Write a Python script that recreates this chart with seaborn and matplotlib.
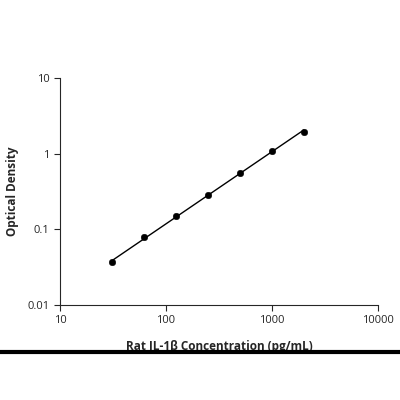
import numpy as np
import matplotlib
matplotlib.use("Agg")
import matplotlib.pyplot as plt
import seaborn as sns
from matplotlib.lines import Line2D

sns.set_style("ticks")
plt.rcParams["font.family"] = ["Open Sans", "DejaVu Sans"]

concentration = [31.25, 62.5, 125, 250, 500, 1000, 2000]
optical_density = [0.037, 0.078, 0.148, 0.285, 0.56, 1.1, 1.95]

fig = plt.figure(figsize=(4, 4), dpi=100)
ax = fig.add_axes([0.15, 0.2375, 0.795, 0.5675])

# straight fit line in log-log space
slope, intercept = np.polyfit(np.log10(concentration), np.log10(optical_density), 1)
fit_x = np.array([concentration[0], concentration[-1]])
fit_y = 10 ** (intercept + slope * np.log10(fit_x))
ax.plot(fit_x, fit_y, color="black", lw=1)

sns.scatterplot(x=concentration, y=optical_density, ax=ax, color="black", s=22, edgecolor="black", zorder=3)

ax.set_xscale("log")
ax.set_yscale("log")
ax.set_xlim(10, 10000)
ax.set_ylim(0.01, 10)
ax.set_xticks([10, 100, 1000, 10000])
ax.set_xticklabels(["10", "100", "1000", "10000"])
ax.set_yticks([0.01, 0.1, 1, 10])
ax.set_yticklabels(["0.01", "0.1", "1", "10"])
ax.minorticks_off()
ax.tick_params(labelsize=8, direction="out", length=4, width=0.8)
for s in ["left", "bottom"]:
    ax.spines[s].set_linewidth(0.8)
sns.despine(ax=ax)

ax.set_xlabel("Rat IL-1β Concentration (pg/mL)", fontsize=8.5, fontweight="bold", labelpad=10)
ax.set_ylabel("Optical Density", fontsize=8.5, fontweight="bold", labelpad=6)

fig.add_artist(Line2D([0, 1], [0.12, 0.12], transform=fig.transFigure, color="black", lw=3))

fig.savefig("out.png", dpi=100)
